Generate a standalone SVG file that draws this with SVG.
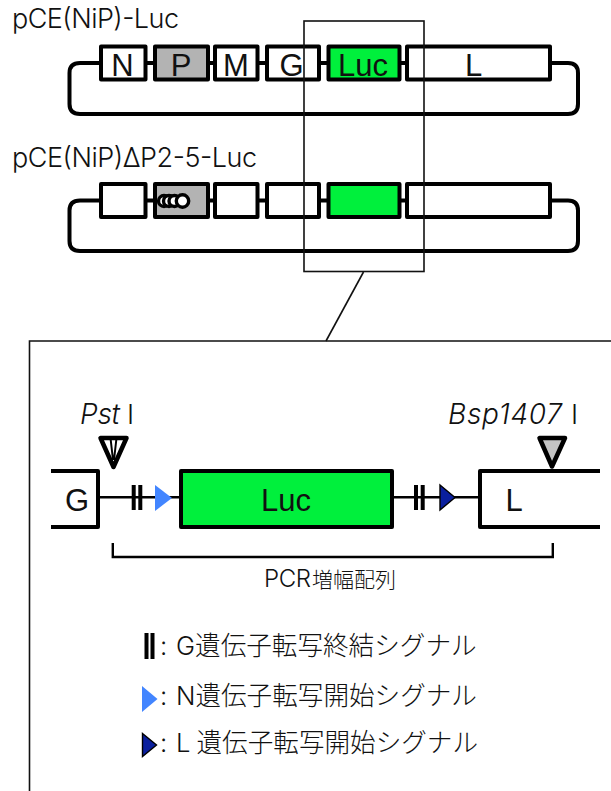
<svg xmlns="http://www.w3.org/2000/svg" width="611" height="791" viewBox="0 0 611 791">
<style>
.t{font-family:"Liberation Sans","Noto Sans CJK JP",sans-serif;fill:#111}
.u{font-family:Inter,"Liberation Sans","Noto Sans CJK JP",sans-serif;font-weight:300;fill:#111}
.j{font-family:Inter,"Noto Sans CJK JP","Liberation Sans",sans-serif;font-weight:300;fill:#111;font-size:25.600px}
.i{font-style:italic;font-size:28px}
.m{font-size:31px;text-anchor:middle}
.box{fill:#fff;stroke:#000;stroke-width:4;stroke-linejoin:round}
.g{fill:#00f03c}.p{fill:#b3b3b3}
.w{fill:none;stroke:#000;stroke-width:4;stroke-linejoin:round}
.thin{fill:none;stroke:#111;stroke-width:1.600}
.ln{fill:none;stroke:#000;stroke-width:2.400}
.bar{fill:#000}
.blue{fill:#4285ff}
.navy{fill:#0a1f9e;stroke:#000;stroke-width:1.400}
.c{fill:#fff;stroke:#000;stroke-width:3.400}
</style>
<g id="connectors">
<path class="w" d="M101 63H80Q69.500 63 69.500 73V104Q69.500 114 80 114H568Q578 114 578 104V73Q578 63 568 63H550"/>
<path class="w" d="M145 63H155M208 63H215M257 63H267M319 63H328M400 63H407"/>
<path class="w" d="M101 200.500H80Q69.500 200.500 69.500 210.500V241Q69.500 251 80 251H568Q578 251 578 241V210.500Q578 200.500 568 200.500H550"/>
<path class="w" d="M145 200.500H155M208 200.500H215M257 200.500H267M319 200.500H328M400 200.500H407"/>
<path class="thin" d="M363.500 272L326 341"/>
<path class="ln" d="M99 497.300H181M392 497.300H480"/>
<path class="ln" d="M112.800 543V557H552.800V543"/>
</g>
<g id="plasmid1-label"><text class="u" x="12" y="28" font-size="27" textLength="167">pCE(NiP)-Luc</text></g>
<g id="plasmid1-N"><rect class="box" x="101" y="46.500" width="44.500" height="33"/><text class="t m" x="122.500" y="75.500">N</text></g>
<g id="plasmid1-P"><rect class="box p" x="155" y="46.500" width="53" height="33"/><text class="t m" x="181" y="75.500">P</text></g>
<g id="plasmid1-M"><rect class="box" x="215" y="46.500" width="42.500" height="33"/><text class="t m" x="236" y="75.500">M</text></g>
<g id="plasmid1-G"><rect class="box" x="267" y="46.500" width="52" height="33"/><text class="t m" x="291.500" y="75.500">G</text></g>
<g id="plasmid1-Luc"><rect class="box g" x="328.500" y="46.500" width="71" height="33"/><text class="t m" x="363" y="75.500">Luc</text></g>
<g id="plasmid1-L"><rect class="box" x="407" y="46.500" width="143" height="33"/><text class="t m" x="473.500" y="75.500">L</text></g>
<g id="plasmid2-label"><text class="u" x="12" y="167" font-size="27" textLength="245">pCE(NiP)ΔP2-5-Luc</text></g>
<g id="plasmid2-N"><rect class="box" x="101" y="184" width="44.500" height="33"/></g>
<g id="plasmid2-P"><rect class="box p" x="155" y="184" width="53" height="33"/>
<circle class="c" cx="164" cy="201" r="5.500"/><circle class="c" cx="169" cy="201" r="5.500"/><circle class="c" cx="174.500" cy="201" r="5.500"/><circle class="c" cx="182.500" cy="201" r="6.200"/></g>
<g id="plasmid2-M"><rect class="box" x="215" y="184" width="42.500" height="33"/></g>
<g id="plasmid2-G"><rect class="box" x="267" y="184" width="52" height="33"/></g>
<g id="plasmid2-Luc"><rect class="box g" x="328.500" y="184" width="71" height="33"/></g>
<g id="plasmid2-L"><rect class="box" x="407" y="184" width="143" height="33"/></g>
<g id="zoom-frame"><rect class="thin" x="304" y="21" width="120" height="250.500"/></g>
<g id="detail-frame"><path class="thin" d="M611 341H29.500V791"/></g>
<g id="detail-G"><path class="w" d="M51 471H98V527H51"/><text class="t m" x="77" y="510.500">G</text></g>
<g id="detail-Luc"><rect class="box g" x="181" y="471" width="211" height="56"/><text class="t m" x="286" y="510.500">Luc</text></g>
<g id="detail-L"><path class="w" d="M600 471H480V527H600"/><text class="t m" x="514" y="510.500">L</text></g>
<g id="signal-G-left"><rect class="bar" x="131.700" y="485" width="4" height="25"/><rect class="bar" x="138.300" y="485" width="4" height="25"/></g>
<g id="signal-N"><path class="blue" d="M155 485L172 498L155 511Z"/></g>
<g id="signal-G-right"><rect class="bar" x="414" y="485" width="4" height="25"/><rect class="bar" x="420.700" y="485" width="4" height="25"/></g>
<g id="signal-L"><path class="navy" d="M440 485L455 497.500L440 510Z"/></g>
<g id="site-Pst"><text class="u i" x="80" y="424" textLength="40">Pst</text><text class="u" x="127" y="424" font-size="27">I</text>
<path d="M100.500 438H126.500L113.500 467Z" fill="#fff" stroke="#000" stroke-width="4.500" stroke-linejoin="round"/>
<path d="M110.500 438L113 460M116.500 438L114 460" fill="none" stroke="#000" stroke-width="2"/></g>
<g id="site-Bsp"><text class="u i" x="448" y="424" textLength="114">Bsp1407</text><text class="u" x="571" y="424" font-size="27">I</text>
<path d="M539.500 438H565L552 466.500Z" fill="#c4c4c4" stroke="#000" stroke-width="4.500" stroke-linejoin="round"/></g>
<g id="pcr-label"><text class="j" x="264" y="587" style="font-size:21px"><tspan style="font-size:24px" textLength="47">PCR</tspan><tspan x="312">増幅配列</tspan></text></g>
<g id="legend-G"><rect class="bar" x="144.500" y="633" width="4" height="26"/><rect class="bar" x="150.500" y="633" width="4" height="26"/><text class="j" x="160" y="655">:</text><text class="j" x="176" y="655">G遺伝子転写終結シグナル</text></g>
<g id="legend-N"><path class="blue" d="M142 686L157.500 699L142 712Z"/><text class="j" x="160" y="705">:</text><text class="j" x="176" y="705">N遺伝子転写開始シグナル</text></g>
<g id="legend-L"><path class="navy" d="M142.500 733.500L156.500 745L142.500 756.500Z"/><text class="j" x="160" y="752">:</text><text class="j" x="176" y="752">L</text><text class="j" x="196.500" y="752">遺伝子転写開始シグナル</text></g>
</svg>
